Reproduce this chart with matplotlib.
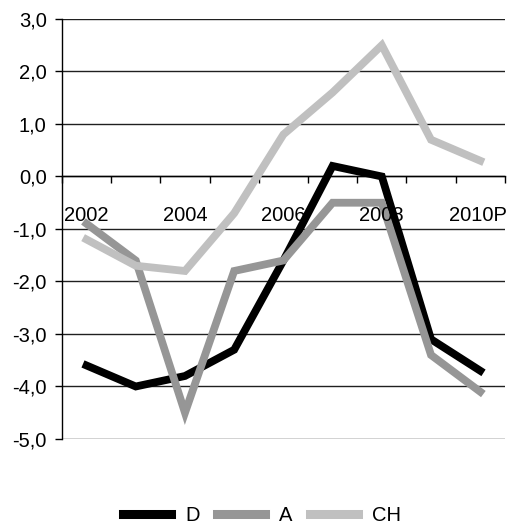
import numpy as np
import matplotlib.pyplot as plt

plt.rcParams['font.family'] = ['Liberation Sans', 'DejaVu Sans']
plt.rcParams['axes.unicode_minus'] = False

years = ['2002', '2003', '2004', '2005', '2006', '2007', '2008', '2009', '2010P']
year_labels = ['2002', '2004', '2006', '2008', '2010P']
d_vals = [-3.6, -4.0, -3.8, -3.3, -1.6, 0.2, 0.0, -3.1, -3.7]
a_vals = [-0.9, -1.6, -4.5, -1.8, -1.6, -0.5, -0.5, -3.4, -4.1]
ch_vals = [-1.2, -1.7, -1.8, -0.7, 0.8, 1.6, 2.5, 0.7, 0.3]
y_ticks = [-5, -4, -3, -2, -1, 0, 1, 2, 3]

fs = 14.5

fig = plt.figure(figsize=(5.12, 5.27), dpi=100)
ax = fig.add_axes([0.121, 0.167, 0.865, 0.797])

x = np.arange(len(years))
lw = 5.6
ax.plot(x, d_vals, color='black', lw=lw, solid_joinstyle='miter', label='D', zorder=3)
ax.plot(x, a_vals, color='#969696', lw=lw, solid_joinstyle='miter', label='A', zorder=3)
ax.plot(x, ch_vals, color='#c0c0c0', lw=lw, solid_joinstyle='miter', label='CH', zorder=3)

ax.set_xlim(-0.5, len(years) - 0.5)
ax.set_ylim(-5, 3)

# horizontal grid
for v in y_ticks:
    ax.axhline(v, color='#202020', lw=1.0, zorder=1)

ax.set_yticks(y_ticks)
ax.set_yticklabels([f'{v:.1f}'.replace('.', ',') for v in y_ticks], fontsize=fs)
ax.tick_params(axis='y', direction='out', length=5, width=1, pad=6, colors='black')

# category axis sits at zero, ticks between categories
ax.spines['bottom'].set_position(('data', 0))
ax.spines['bottom'].set_linewidth(1.0)
ax.set_xticks(np.arange(-0.5, len(years), 1.0))
ax.set_xticklabels([])
ax.tick_params(axis='x', direction='out', length=5, width=1)
for s in ['top', 'right']:
    ax.spines[s].set_visible(False)
ax.spines['left'].set_linewidth(1.0)

for lbl in year_labels:
    xi = years.index(lbl)
    if lbl == year_labels[-1]:
        xi -= 0.05
    ax.text(xi, -0.74, lbl, ha='center', va='center', fontsize=fs, zorder=5)

leg = fig.legend(loc='center', bbox_to_anchor=(0.512, 0.022), ncol=3, frameon=False,
                 fontsize=fs, handlelength=2.4, handletextpad=0.7, columnspacing=0.85)
for h in leg.get_lines():
    h.set_linewidth(6.5)

fig.savefig('out.png', dpi=100)
